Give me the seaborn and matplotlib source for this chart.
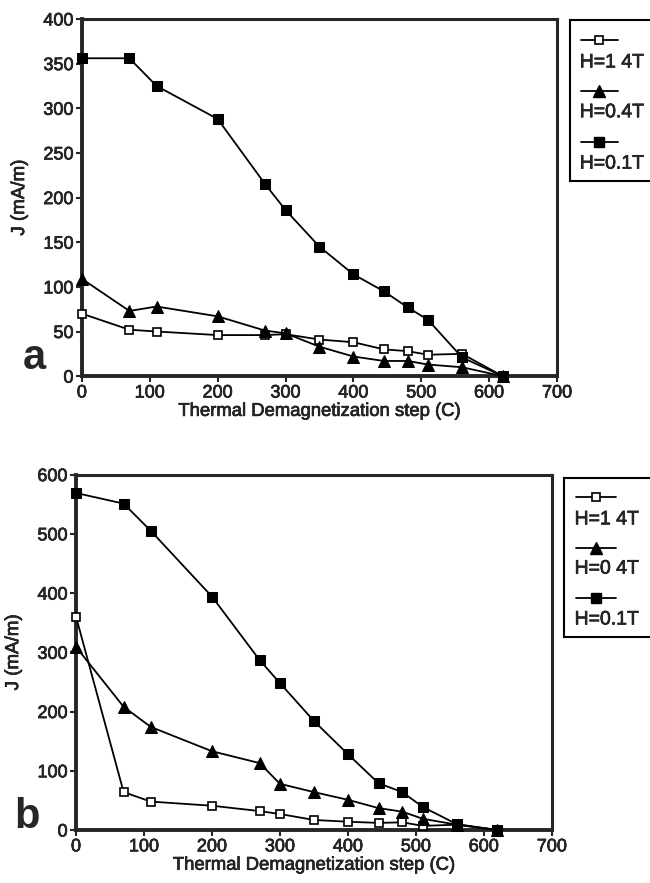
import numpy as np
import pandas as pd
import seaborn as sns
import matplotlib.pyplot as plt
import matplotlib.patheffects as pe
from matplotlib.lines import Line2D

# temperature steps (C)
steps = [0, 70, 110, 200, 270, 300, 350, 400, 445, 480, 510, 560, 620]

# panel a
a_14T = [70, 52, 50, 46, 46, 47, 41, 38, 30, 28, 24, 25, 0]
a_04T = [109, 73, 78, 67, 51, 48, 33, 22, 17, 17, 13, 10, 0]
a_01T = [356, 356, 325, 288, 215, 186, 145, 114, 95, 77, 63, 21, 0]

# panel b
b_14T = [360, 64, 48, 41, 32, 27, 17, 14, 12, 13, 7, 9, 0]
b_04T = [309, 208, 174, 133, 113, 78, 64, 51, 37, 31, 19, 9, 0]
b_01T = [569, 551, 505, 394, 287, 248, 184, 128, 79, 64, 39, 10, 0]

labels_a = ["H=1 4T", "H=0.4T", "H=0.1T"]
labels_b = ["H=1 4T", "H=0 4T", "H=0.1T"]

sns.set_style("ticks")
plt.rcParams['font.family'] = ['Liberation Sans', 'DejaVu Sans']

heavy = [pe.withStroke(linewidth=0.45, foreground='black')]

fig = plt.figure(figsize=(6.5, 8.83), dpi=100)
ax_a = fig.add_axes([0.126, 0.574, 0.731, 0.4045])
ax_b = fig.add_axes([0.117, 0.060, 0.732, 0.4025])

styles = [
    dict(marker='s', markersize=5.5, markerfacecolor='white', markeredgecolor='black', markeredgewidth=1.2),
    dict(marker='^', markersize=8.5, markerfacecolor='black', markeredgecolor='black'),
    dict(marker='s', markersize=7.5, markerfacecolor='black', markeredgecolor='black'),
]


def draw(ax, series, ymax, ystep, labels, rect, letter, lpos):
    for vals, st in zip(series, styles):
        df = pd.DataFrame({'T': steps, 'J': vals})
        sns.lineplot(data=df, x='T', y='J', ax=ax, color='black', linewidth=1.3,
                     clip_on=False, zorder=3, **st)
    ax.set_xlim(0, 700)
    ax.set_ylim(0, ymax)
    ax.set_xticks(np.arange(0, 701, 100))
    ax.set_yticks(np.arange(0, ymax + 1, ystep))
    for s in ax.spines.values():
        s.set_linewidth(2.2)
        s.set_visible(True)
    ax.spines['left'].set_linewidth(2.8)
    ax.spines['bottom'].set_linewidth(2.8)
    ax.tick_params(axis='both', length=4, width=1.5, labelsize=13, pad=2)
    for t in ax.get_xticklabels() + ax.get_yticklabels():
        t.set_path_effects(heavy)
    ax.set_xlabel("Thermal Demagnetization step (C)", fontsize=13.3, labelpad=1,
                  path_effects=heavy)
    ax.set_ylabel("J (mA/m)", fontsize=13.5, labelpad=11, path_effects=heavy)
    fig.text(lpos[0], lpos[1], letter, fontsize=30, fontweight='bold', ha='left', va='bottom')

    # legend box: sample line above, label below
    lg = fig.add_axes(rect)
    lg.set_xlim(0, 1)
    lg.set_ylim(0, 1)
    lg.set_xticks([])
    lg.set_yticks([])
    for s in lg.spines.values():
        s.set_linewidth(1.5)
        s.set_color('black')
    line_y = [0.876, 0.56, 0.24]
    text_y = [0.735, 0.425, 0.105]
    for lab, st, ly, ty in zip(labels, styles, line_y, text_y):
        lg.add_line(Line2D([0.12, 0.55], [ly, ly], color='black', linewidth=1.3))
        lg.add_line(Line2D([0.335], [ly], color='black', **st))
        lg.text(0.11, ty, lab, fontsize=14, ha='left', va='center', path_effects=heavy)


draw(ax_a, [a_14T, a_04T, a_01T], 400, 50, labels_a,
     [0.877, 0.795, 0.135, 0.182], 'a', (0.035, 0.572))
draw(ax_b, [b_14T, b_04T, b_01T], 600, 100, labels_b,
     [0.868, 0.279, 0.145, 0.180], 'b', (0.022, 0.052))

fig.savefig("out.png", dpi=100)
